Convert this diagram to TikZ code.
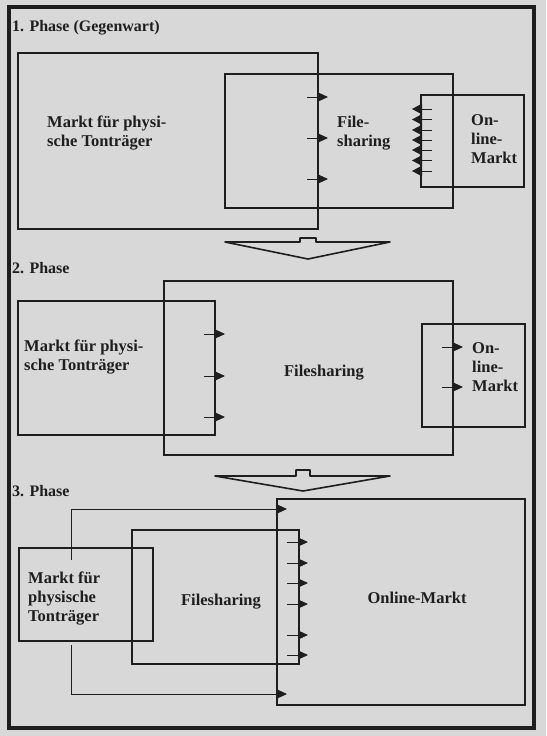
\documentclass[tikz,border=0pt]{standalone}
\usepackage{fontspec}
\setmainfont{Liberation Serif}
\usetikzlibrary{arrows.meta}
\definecolor{bg}{RGB}{216,216,216}
\definecolor{ink}{RGB}{30,30,30}
\begin{document}
\begin{tikzpicture}[x=1pt,y=-1pt,
  box/.style={draw=ink, line width=2pt, inner sep=0pt, outer sep=0pt, anchor=north west},
  frame/.style={draw=ink, line width=4pt},
  lbl/.style={font=\fontsize{16.5}{19}\selectfont\bfseries, text=ink, align=left, inner sep=0pt},
  ttl/.style={font=\fontsize{16}{19}\selectfont\bfseries, text=ink, inner sep=0pt, anchor=west},
  arr/.style={draw=ink, line width=0.9pt, -{Triangle[length=10pt,width=9pt]}},
  larr/.style={draw=ink, line width=0.9pt, -{Triangle[length=10pt,width=10.5pt]}},
  bigarrow/.style={draw=ink, line width=1.6pt, line join=round}]

\fill[bg] (0,0) rectangle (546,736);
\useasboundingbox (0,0) rectangle (546,736);
\draw[frame] (9,7) rectangle (534,728);

% ---------- Phase 1 ----------
\node[ttl] (t1) at (12,28) {1. Phase (Gegenwart)};
\node[box, minimum width=300pt, minimum height=176pt] (m1) at (18,53) {};
\node[box, minimum width=228pt, minimum height=134pt] (f1) at (225,74) {};
\node[box, minimum width=103pt, minimum height=92pt] (o1) at (421,95) {};
\node[lbl, anchor=west] (lm1) at (47,133) {Markt für physi-\\sche Tonträger};
\node[lbl, anchor=west] (lf1) at (337,133) {File-\\sharing};
\node[lbl, anchor=west] (lo1) at (471,139) {On-\\line-\\Markt};
\foreach \y in {97,138,179} \draw[arr] (307,\y) -- (328,\y);
\foreach \y in {109,119.5,130,140,150,160.5,171} \draw[larr] (432,\y) -- (412,\y);
\draw[bigarrow] (225,242)--(300,242)--(300,238)--(316,238)--(316,242)--(390,242)--(308,259)--cycle;

% ---------- Phase 2 ----------
\node[ttl] (t2) at (12,268) {2. Phase};
\node[box, minimum width=197pt, minimum height=134pt] (m2) at (18,301) {};
\node[box, minimum width=289pt, minimum height=174pt] (f2) at (164,281) {};
\node[box, minimum width=103pt, minimum height=103pt] (o2) at (422,324) {};
\node[lbl, anchor=west] (lm2) at (24,357) {Markt für physi-\\sche Tonträger};
\node[lbl] (lf2) at (324,373) {Filesharing};
\node[lbl, anchor=west] (lo2) at (472,367) {On-\\line-\\Markt};
\foreach \y in {334,376,417} \draw[arr] (204,\y) -- (225,\y);
\foreach \y in {347,387} \draw[arr] (442,\y) -- (463,\y);
\draw[bigarrow] (215,476)--(296,476)--(296,470)--(310,470)--(310,476)--(390,476)--(303,491)--cycle;

% ---------- Phase 3 ----------
\node[ttl] (t3) at (12,491) {3. Phase};
\node[box, minimum width=134pt, minimum height=93pt] (m3) at (19,548) {};
\node[box, minimum width=167pt, minimum height=134pt] (f3) at (132,530) {};
\node[box, minimum width=248pt, minimum height=206pt] (o3) at (277,499) {};
\node[lbl, anchor=west] (lm3) at (28,599) {Markt für\\physische\\Tonträger};
\node[lbl] (lf3) at (221,602) {Filesharing};
\node[lbl] (lo3) at (417,598) {Online-Markt};
\foreach \y in {542,563,583,604,635,655} \draw[arr] (287,\y) -- (308,\y);
\coordinate (ct) at (71,560);
\coordinate (cb) at (71,645);
\draw[arr] (ct) -- (71,509) -- (287,509);
\draw[arr] (cb) -- (71,694) -- (287,694);
\end{tikzpicture}
\end{document}
